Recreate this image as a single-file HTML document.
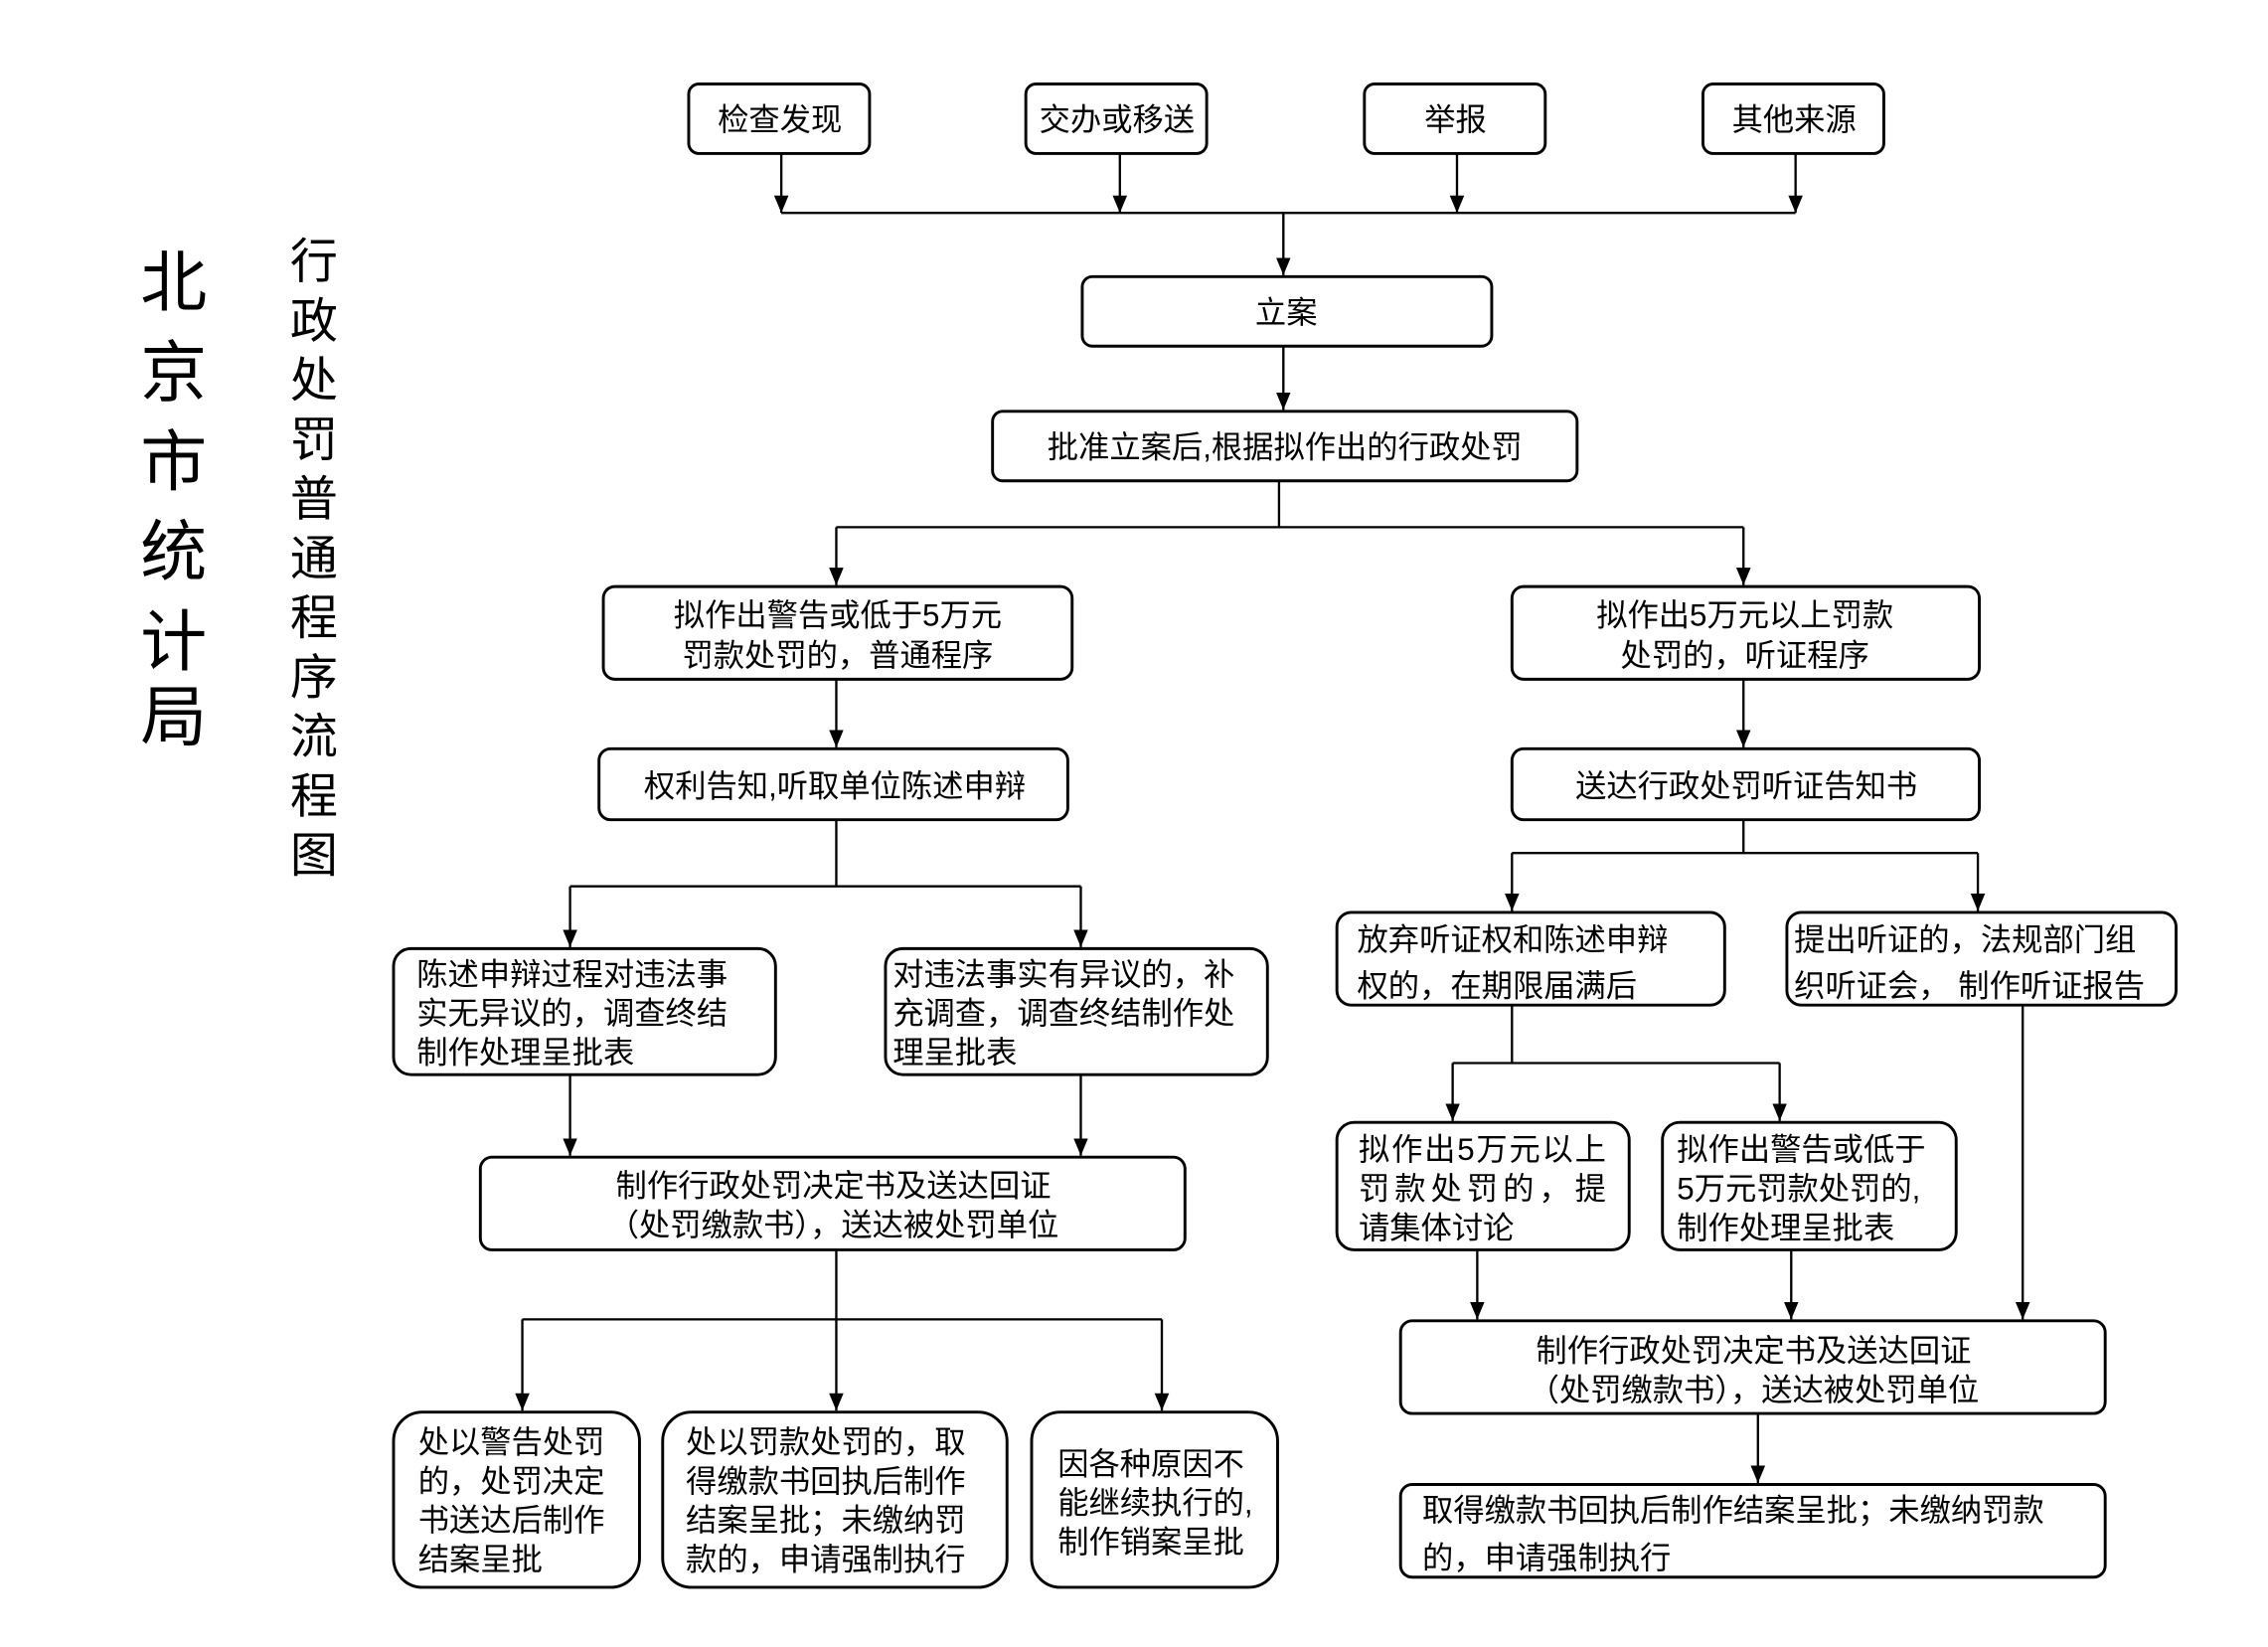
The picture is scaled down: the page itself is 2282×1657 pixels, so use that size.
<!DOCTYPE html>
<html><head><meta charset="utf-8"><style>
html,body{margin:0;padding:0;background:#fff;}
svg{display:block;}
text{font-family:"Liberation Sans","Noto Sans CJK SC",sans-serif;fill:#000;font-size:21.5px;}
.b{fill:#fff;stroke:#000;stroke-width:2;}
.l{stroke:#000;stroke-width:1.6;fill:none;}
.c{text-anchor:middle;}
</style></head><body>
<svg width="2282" height="1657" viewBox="0 0 1560 1133" preserveAspectRatio="none" xmlns="http://www.w3.org/2000/svg">
<defs>
<marker id="d" markerWidth="10" markerHeight="12" refX="5" refY="12" orient="0" markerUnits="userSpaceOnUse" viewBox="0 0 10 12"><path d="M0,0 L10,0 L5,12 Z" fill="#000"/></marker></defs>
<g transform="translate(0,-1) scale(0.9952,0.9963)">
<!-- titles -->
<text x="120" y="212" class="c" style="font-size:46px">北</text>
<text x="120" y="274" class="c" style="font-size:46px">京</text>
<text x="120" y="336" class="c" style="font-size:46px">市</text>
<text x="120" y="398" class="c" style="font-size:46px">统</text>
<text x="120" y="460" class="c" style="font-size:46px">计</text>
<text x="120" y="512" class="c" style="font-size:46px">局</text>
<text x="217" y="193" class="c" style="font-size:33px">行</text>
<text x="217" y="234" class="c" style="font-size:33px">政</text>
<text x="217" y="275" class="c" style="font-size:33px">处</text>
<text x="217" y="316" class="c" style="font-size:33px">罚</text>
<text x="217" y="357" class="c" style="font-size:33px">普</text>
<text x="217" y="398" class="c" style="font-size:33px">通</text>
<text x="217" y="439" class="c" style="font-size:33px">程</text>
<text x="217" y="480" class="c" style="font-size:33px">序</text>
<text x="217" y="521" class="c" style="font-size:33px">流</text>
<text x="217" y="562" class="c" style="font-size:33px">程</text>
<text x="217" y="603" class="c" style="font-size:33px">图</text>

<!-- top boxes -->
<rect class="b" x="476" y="59" width="125" height="48" rx="7"/><text x="539" y="91" class="c">检查发现</text>
<rect class="b" x="709" y="59" width="125" height="48" rx="7"/><text x="772" y="91" class="c">交办或移送</text>
<rect class="b" x="943" y="59" width="125" height="48" rx="7"/><text x="1006" y="91" class="c">举报</text>
<rect class="b" x="1177" y="59" width="125" height="48" rx="7"/><text x="1240" y="91" class="c">其他来源</text>
<g class="l" marker-end="url(#d)">
<line x1="540" y1="107" x2="540" y2="148"/>
<line x1="774" y1="107" x2="774" y2="148"/>
<line x1="1007" y1="107" x2="1007" y2="148"/>
<line x1="1241" y1="107" x2="1241" y2="148"/>
</g>
<line class="l" x1="540" y1="148" x2="1241" y2="148"/>
<line class="l" x1="887" y1="148" x2="887" y2="191" marker-end="url(#d)"/>

<rect class="b" x="748" y="192" width="283" height="48" rx="7"/><text x="889" y="224" class="c">立案</text>
<line class="l" x1="887" y1="240" x2="887" y2="284" marker-end="url(#d)"/>
<rect class="b" x="686" y="285" width="404" height="48" rx="7"/><text x="888" y="317" class="c">批准立案后,根据拟作出的行政处罚</text>

<line class="l" x1="884" y1="333" x2="884" y2="365"/>
<line class="l" x1="578" y1="365" x2="1205" y2="365"/>
<line class="l" x1="578" y1="365" x2="578" y2="405" marker-end="url(#d)"/>
<line class="l" x1="1205" y1="365" x2="1205" y2="405" marker-end="url(#d)"/>

<rect class="b" x="417" y="406" width="324" height="64" rx="8"/>
<text x="579" y="433" class="c">拟作出警告或低于5万元</text>
<text x="579" y="461" class="c">罚款处罚的，普通程序</text>
<rect class="b" x="1045" y="406" width="323" height="64" rx="8"/>
<text x="1206" y="433" class="c">拟作出5万元以上罚款</text>
<text x="1206" y="461" class="c">处罚的，听证程序</text>

<line class="l" x1="578" y1="470" x2="578" y2="517" marker-end="url(#d)"/>
<line class="l" x1="1205" y1="470" x2="1205" y2="517" marker-end="url(#d)"/>
<rect class="b" x="414" y="518" width="324" height="49" rx="8"/><text x="577" y="551" class="c">权利告知,听取单位陈述申辩</text>
<rect class="b" x="1045" y="518" width="323" height="49" rx="8"/><text x="1207" y="551" class="c">送达行政处罚听证告知书</text>

<!-- left branch -->
<line class="l" x1="578" y1="567" x2="578" y2="613"/>
<line class="l" x1="394" y1="613" x2="747" y2="613"/>
<line class="l" x1="394" y1="613" x2="394" y2="655" marker-end="url(#d)"/>
<line class="l" x1="747" y1="613" x2="747" y2="655" marker-end="url(#d)"/>
<rect class="b" x="272" y="656" width="264" height="87" rx="12"/>
<text x="288" y="681">陈述申辩过程对违法事</text>
<text x="288" y="708">实无异议的，调查终结</text>
<text x="288" y="735">制作处理呈批表</text>
<rect class="b" x="612" y="656" width="264" height="87" rx="12"/>
<text x="617" y="681">对违法事实有异议的，补</text>
<text x="617" y="708">充调查，调查终结制作处</text>
<text x="617" y="735">理呈批表</text>
<line class="l" x1="394" y1="743" x2="394" y2="799" marker-end="url(#d)"/>
<line class="l" x1="747" y1="743" x2="747" y2="799" marker-end="url(#d)"/>
<rect class="b" x="332" y="800" width="487" height="64" rx="8"/>
<text x="576" y="827" class="c">制作行政处罚决定书及送达回证</text>
<text x="576" y="854" class="c">（处罚缴款书），送达被处罚单位</text>
<line class="l" x1="578" y1="864" x2="578" y2="912"/>
<line class="l" x1="361" y1="912" x2="803" y2="912"/>
<line class="l" x1="361" y1="912" x2="361" y2="975" marker-end="url(#d)"/>
<line class="l" x1="578" y1="912" x2="578" y2="975" marker-end="url(#d)"/>
<line class="l" x1="803" y1="912" x2="803" y2="975" marker-end="url(#d)"/>
<rect class="b" x="272" y="976" width="170" height="121" rx="20"/>
<text x="289" y="1004">处以警告处罚</text>
<text x="289" y="1031">的，处罚决定</text>
<text x="289" y="1058">书送达后制作</text>
<text x="289" y="1085">结案呈批</text>
<rect class="b" x="458" y="976" width="238" height="121" rx="20"/>
<text x="474" y="1004">处以罚款处罚的，取</text>
<text x="474" y="1031">得缴款书回执后制作</text>
<text x="474" y="1058">结案呈批；未缴纳罚</text>
<text x="474" y="1085">款的，申请强制执行</text>
<rect class="b" x="713" y="976" width="170" height="121" rx="20"/>
<text x="731" y="1019">因各种原因不</text>
<text x="731" y="1046">能继续执行的,</text>
<text x="731" y="1073">制作销案呈批</text>

<!-- right branch -->
<line class="l" x1="1205" y1="567" x2="1205" y2="590"/>
<line class="l" x1="1045" y1="590" x2="1367" y2="590"/>
<line class="l" x1="1045" y1="590" x2="1045" y2="630" marker-end="url(#d)"/>
<line class="l" x1="1367" y1="590" x2="1367" y2="630" marker-end="url(#d)"/>
<rect class="b" x="924" y="631" width="268" height="64" rx="10"/>
<text x="938" y="657">放弃听证权和陈述申辩</text>
<text x="938" y="689">权的，在期限届满后</text>
<rect class="b" x="1235" y="631" width="269" height="64" rx="10"/>
<text x="1240" y="657">提出听证的，法规部门组</text>
<text x="1240" y="689">织听证会，  制作听证报告</text>
<line class="l" x1="1045" y1="695" x2="1045" y2="735"/>
<line class="l" x1="1004" y1="735" x2="1230" y2="735"/>
<line class="l" x1="1004" y1="735" x2="1004" y2="775" marker-end="url(#d)"/>
<line class="l" x1="1230" y1="735" x2="1230" y2="775" marker-end="url(#d)"/>
<rect class="b" x="924" y="776" width="202" height="88" rx="12"/>
<text x="939" y="802" textLength="171" lengthAdjust="spacing">拟作出5万元以上</text>
<text x="939" y="829" textLength="171" lengthAdjust="spacing">罚款处罚的，提</text>
<text x="939" y="856">请集体讨论</text>
<rect class="b" x="1149" y="776" width="203" height="88" rx="12"/>
<text x="1159" y="802">拟作出警告或低于</text>
<text x="1159" y="829">5万元罚款处罚的,</text>
<text x="1159" y="856">制作处理呈批表</text>
<line class="l" x1="1021" y1="864" x2="1021" y2="912" marker-end="url(#d)"/>
<line class="l" x1="1238" y1="864" x2="1238" y2="912" marker-end="url(#d)"/>
<line class="l" x1="1398" y1="695" x2="1398" y2="912" marker-end="url(#d)"/>
<rect class="b" x="968" y="913" width="487" height="64" rx="8"/>
<text x="1212" y="941" class="c">制作行政处罚决定书及送达回证</text>
<text x="1212" y="968" class="c">（处罚缴款书），送达被处罚单位</text>
<line class="l" x1="1215" y1="977" x2="1215" y2="1025" marker-end="url(#d)"/>
<rect class="b" x="968" y="1026" width="487" height="64" rx="8"/>
<text x="983" y="1051">取得缴款书回执后制作结案呈批；未缴纳罚款</text>
<text x="983" y="1084">的，申请强制执行</text>
</g>
</svg>
</body></html>
